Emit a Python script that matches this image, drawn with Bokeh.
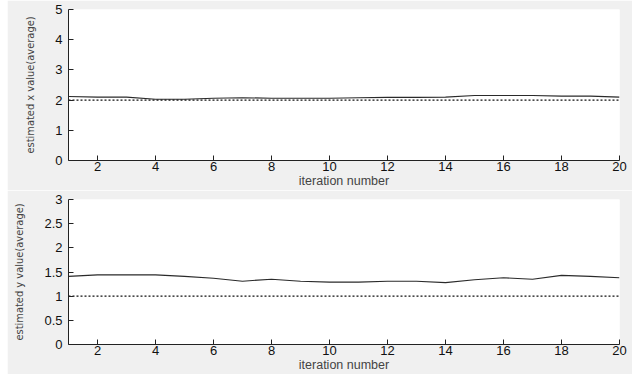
from bokeh.plotting import figure
from bokeh.layouts import column
from bokeh.models import FixedTicker, Range1d
from bokeh.embed import file_html
from bokeh.resources import INLINE

# iteration index
iterations = list(range(1, 21))

# averaged estimates of the x coordinate (true value 2)
x_estimate = [2.12, 2.10, 2.10, 2.03, 2.03, 2.06, 2.08, 2.06, 2.06, 2.06,
              2.08, 2.09, 2.09, 2.10, 2.15, 2.15, 2.15, 2.13, 2.13, 2.10]
x_true = [2.0] * 20

# averaged estimates of the y coordinate (true value 1)
y_estimate = [1.41, 1.44, 1.44, 1.44, 1.41, 1.37, 1.31, 1.35, 1.31, 1.29,
              1.29, 1.31, 1.31, 1.28, 1.34, 1.38, 1.35, 1.43, 1.41, 1.38]
y_true = [1.0] * 20

x_ticks = [2, 4, 6, 8, 10, 12, 14, 16, 18, 20]
top_yticks = [0, 1, 2, 3, 4, 5]
bottom_yticks = [0, 0.5, 1, 1.5, 2, 2.5, 3]
bottom_ylabels = ["0", "0.5", "1", "1.5", "2", "2.5", "3"]

FIG_BG = "#f0f0f0"
TICK_FONT = "Liberation Sans"
NARROW_FONT = "'Liberation Sans Narrow', 'DejaVu Sans Condensed', 'Liberation Sans', sans-serif"


def make_panel(ylabel, yticks, ymax, est, true, frame_h, top_border, bottom_border, margin,
               label_overrides=None):
    p = figure(frame_width=551, frame_height=frame_h, output_backend="svg",
               toolbar_location=None, x_range=Range1d(1, 20), y_range=Range1d(0, ymax),
               min_border_left=61, min_border_right=13, min_border_top=top_border,
               min_border_bottom=bottom_border, margin=margin)
    p.border_fill_color = FIG_BG
    p.background_fill_color = "white"
    p.outline_line_color = None
    p.xgrid.visible = False
    p.ygrid.visible = False

    p.line(iterations, est, line_color="#2a2a2a", line_width=1.1)
    p.line(iterations, true, line_color="#111111", line_width=1.1, line_dash="2 2")

    for ax in (p.xaxis[0], p.yaxis[0]):
        ax.axis_line_color = "#222222"
        ax.major_tick_line_color = "#222222"
        ax.major_tick_in = 5
        ax.major_tick_out = 0
        ax.minor_tick_line_color = None
        ax.major_label_text_font = TICK_FONT
        ax.major_label_text_font_size = "13px"
        ax.major_label_text_color = "#111111"

    p.xaxis.ticker = FixedTicker(ticks=x_ticks)
    p.xaxis.major_label_standoff = 1
    p.xaxis.axis_label = "iteration number"
    p.xaxis.axis_label_text_font = TICK_FONT
    p.xaxis.axis_label_text_font_style = "normal"
    p.xaxis.axis_label_text_font_size = "12.5px"
    p.xaxis.axis_label_standoff = 0

    p.yaxis.ticker = FixedTicker(ticks=yticks)
    if label_overrides:
        p.yaxis.major_label_overrides = label_overrides
    p.yaxis.major_label_standoff = 6
    p.yaxis.axis_label = ylabel
    p.yaxis.axis_label_text_font = NARROW_FONT
    p.yaxis.axis_label_text_font_style = "normal"
    p.yaxis.axis_label_text_font_size = "11px"
    p.yaxis.axis_label_standoff = 15
    return p


top = make_panel("estimated x value(average)", top_yticks, 5, x_estimate, x_true,
                 151, 9, 30, (0, 0, 0, 7))
bottom = make_panel("estimated y value(average)", bottom_yticks, 3, y_estimate, y_true,
                    145, 9, 30, (0, 0, 0, 7),
                    label_overrides={t: s for t, s in zip(bottom_yticks, bottom_ylabels)})

layout = column(top, bottom, spacing=0)
open("out.html", "w").write(file_html(layout, INLINE))
